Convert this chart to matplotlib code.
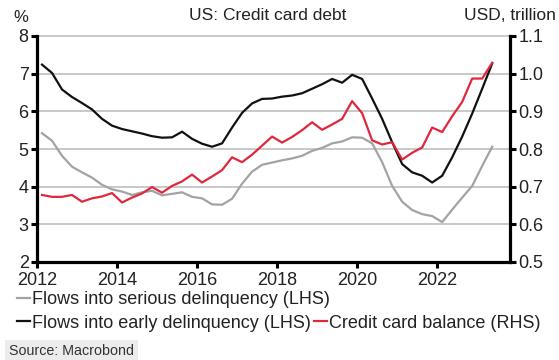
import matplotlib
matplotlib.use("Agg")
import matplotlib.pyplot as plt
from matplotlib.lines import Line2D

plt.rcParams['font.family'] = ['Liberation Sans', 'DejaVu Sans']

# Quarterly observations 2012Q1 .. 2023Q2
quarters = [f"{y}Q{q}" for y in range(2012, 2024) for q in range(1, 5)][:46]

serious = [5.42, 5.22, 4.82, 4.53, 4.38, 4.24, 4.05, 3.93, 3.87, 3.78,
           3.85, 3.89, 3.77, 3.81, 3.85, 3.73, 3.69, 3.53, 3.52, 3.68,
           4.08, 4.40, 4.58, 4.64, 4.70, 4.75, 4.82, 4.95, 5.03, 5.15,
           5.20, 5.31, 5.30, 5.15, 4.65, 4.02, 3.60, 3.38, 3.27, 3.22,
           3.06, 3.39, 3.71, 4.02, 4.55, 5.06]

early = [7.24, 7.02, 6.58, 6.38, 6.22, 6.05, 5.80, 5.62, 5.53, 5.47,
         5.41, 5.34, 5.30, 5.31, 5.46, 5.27, 5.14, 5.06, 5.15, 5.57,
         5.96, 6.21, 6.33, 6.34, 6.39, 6.42, 6.48, 6.60, 6.72, 6.86,
         6.76, 6.97, 6.86, 6.34, 5.80, 5.18, 4.60, 4.38, 4.29, 4.11,
         4.29, 4.78, 5.33, 5.94, 6.60, 7.27]

balance = [0.678, 0.673, 0.673, 0.678, 0.660, 0.669, 0.674, 0.683, 0.658, 0.671,
           0.682, 0.699, 0.684, 0.702, 0.714, 0.732, 0.711, 0.727, 0.744, 0.778,
           0.765, 0.785, 0.809, 0.833, 0.817, 0.832, 0.850, 0.871, 0.851, 0.865,
           0.880, 0.927, 0.895, 0.823, 0.812, 0.818, 0.772, 0.790, 0.804, 0.857,
           0.845, 0.887, 0.925, 0.987, 0.987, 1.029]

x_ticks = [2012, 2014, 2016, 2018, 2020, 2022]
left_ticks = [2, 3, 4, 5, 6, 7, 8]
right_ticks = [0.5, 0.6, 0.7, 0.8, 0.9, 1.0, 1.1]

labels = ["Flows into serious delinquency (LHS)",
          "Flows into early delinquency (LHS)",
          "Credit card balance (RHS)"]

t = [int(q[:4]) + (int(q[-1]) - 1) * 0.25 + 0.125 for q in quarters]

GRAY = '#a3a3a3'
BLACK = '#111111'
RED = '#e0283c'
GRID = '#c8c8c8'
FS = 13

fig = plt.figure(figsize=(5.59, 3.60), dpi=100)
W, H = 559, 360
ax = fig.add_axes([37 / W, 1 - 262 / H, (510 - 37) / W, (262 - 36) / H])
ax2 = ax.twinx()

l1, = ax.plot(t, serious, color=GRAY, lw=1.6, zorder=3)
l2, = ax.plot(t, early, color=BLACK, lw=1.6, zorder=4)
l3, = ax2.plot(t, balance, color=RED, lw=1.6, zorder=5)

ax.set_xlim(2012.0, 2023.82)
ax.set_ylim(2, 8)
ax2.set_ylim(0.5, 1.1)

ax.set_xticks(x_ticks)
ax.set_xticklabels([str(v) for v in x_ticks])
ax.set_yticks(left_ticks)
ax.set_yticklabels([str(v) for v in left_ticks])
ax2.set_yticks(right_ticks)
ax2.set_yticklabels([f"{v:.1f}" for v in right_ticks])

ax.yaxis.grid(True, color=GRID, lw=1.4)
for gl in ax.get_ygridlines():
    gl.set_clip_on(False)
ax.set_axisbelow(True)

for s in ['top', 'right']:
    ax.spines[s].set_visible(False)
for s in ['top', 'left', 'bottom']:
    ax2.spines[s].set_visible(False)
for sp in [ax.spines['left'], ax.spines['bottom'], ax2.spines['right']]:
    sp.set_linewidth(2.3)
    sp.set_color('black')

ax.tick_params(axis='x', direction='out', length=4, width=2.2,
               labelsize=FS, pad=3, colors='black', labelcolor='#222222')
ax.tick_params(axis='y', direction='out', length=4, width=2.2,
               labelsize=FS, pad=2, colors='black', labelcolor='#222222')
ax2.tick_params(axis='y', direction='out', length=4, width=2.2,
                labelsize=FS, pad=2, colors='black', labelcolor='#222222')

fig.text(13 / W, 1 - 17 / H, '%', fontsize=12, va='center', ha='left', color='#222222')
fig.text(268 / W, 1 - 16 / H, 'US: Credit card debt', fontsize=12.5,
         va='center', ha='center', color='#222222')
fig.text(556 / W, 1 - 16 / H, 'USD, trillion', fontsize=12.5,
         va='center', ha='right', color='#222222')

leg_kw = dict(frameon=False, fontsize=FS, handlelength=0.7, handletextpad=0.15,
              borderpad=0, borderaxespad=0, columnspacing=0.15,
              labelcolor='#222222')
leg1 = fig.legend([l1], [labels[0]], loc='center left',
                  bbox_to_anchor=(17 / W, 1 - 300 / H), **leg_kw)
leg2 = fig.legend([l2, l3], [labels[1], labels[2]], loc='center left', ncol=2,
                  bbox_to_anchor=(17 / W, 1 - 323 / H), **leg_kw)

fig.text(9 / W, 1 - 351 / H, 'Source: Macrobond', fontsize=10.3, va='center', ha='left',
         color='#333333',
         bbox=dict(boxstyle='square,pad=0.25', facecolor='#ececec', edgecolor='none'))

fig.savefig('out.png', dpi=100)
